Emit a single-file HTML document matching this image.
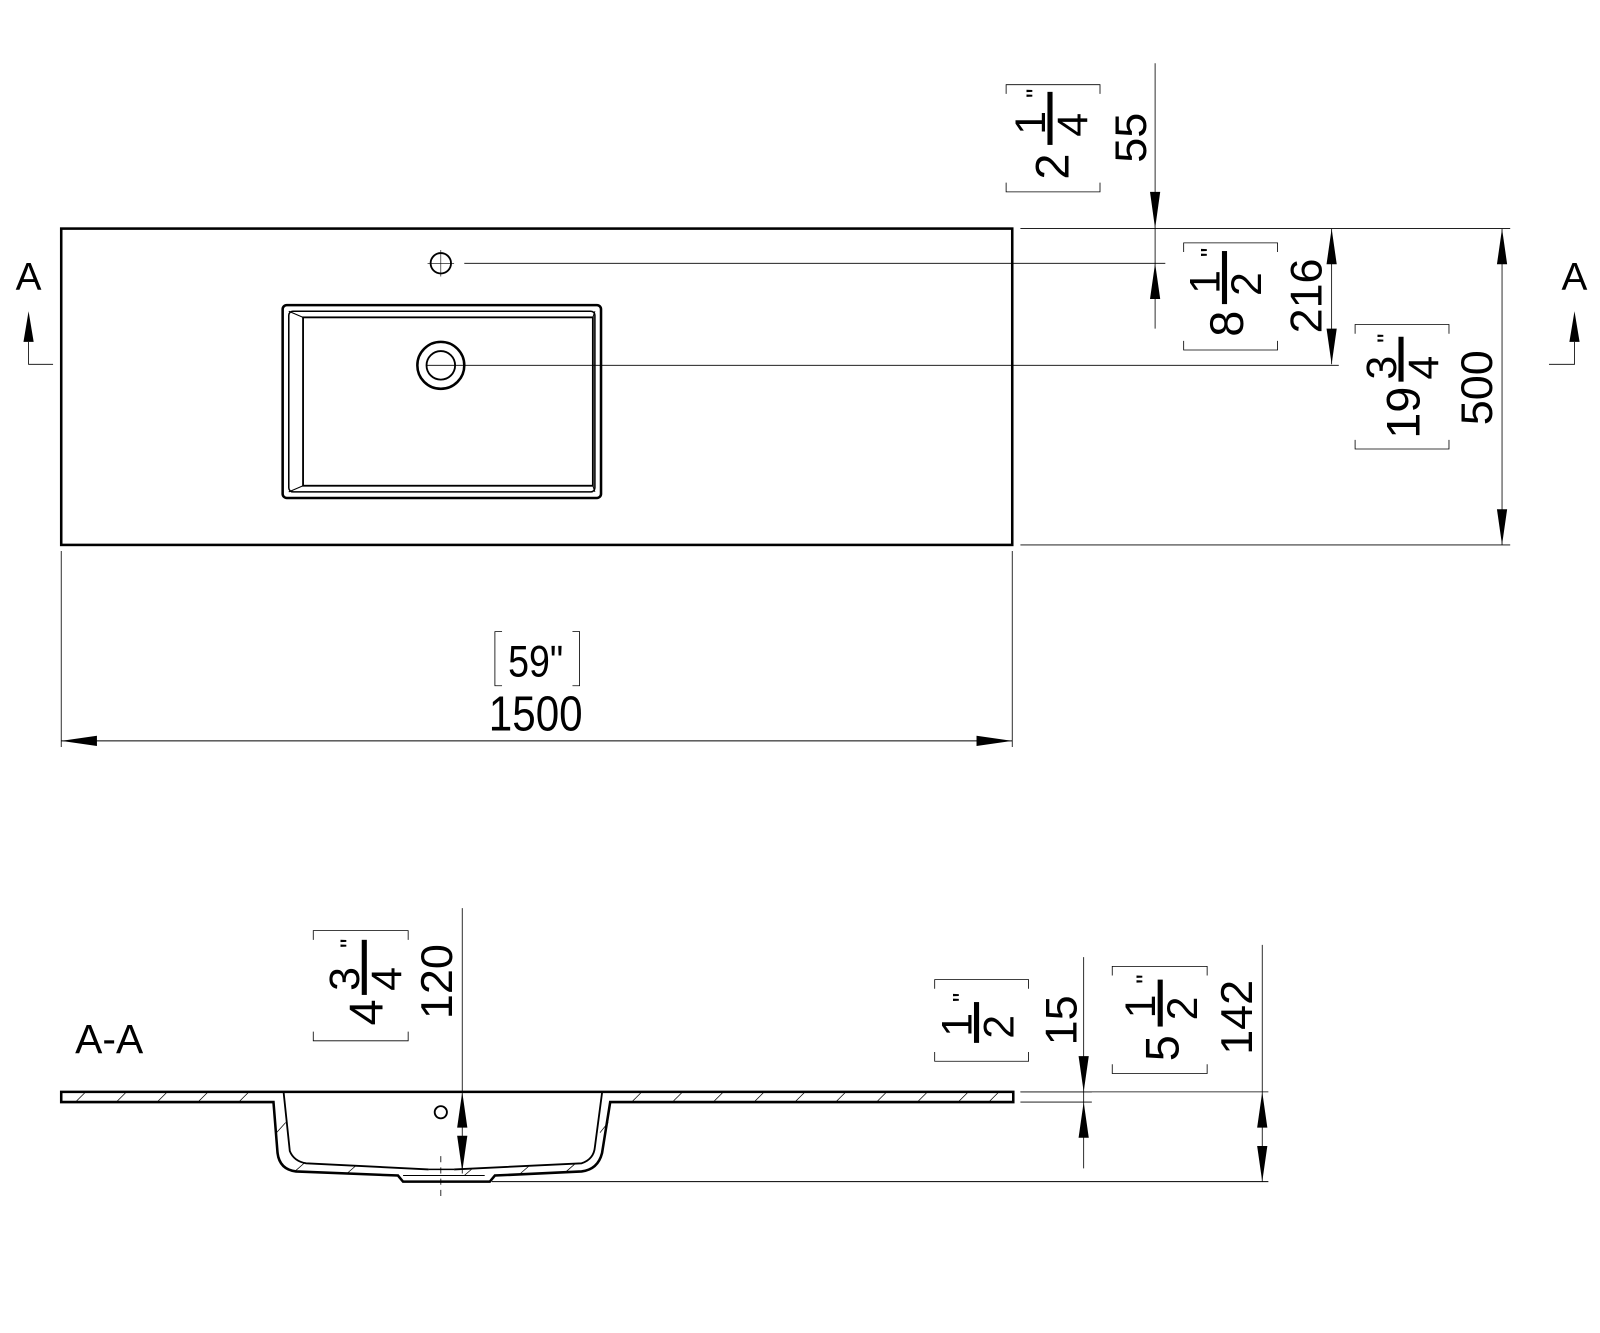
<!DOCTYPE html>
<html><head><meta charset="utf-8"><style>html,body{margin:0;padding:0;background:#fff}svg{display:block}text{font-family:"Liberation Sans",sans-serif;fill:#000}</style></head>
<body>
<svg width="1600" height="1333" viewBox="0 0 1568 1306.3" xmlns="http://www.w3.org/2000/svg">
<g fill="none" stroke="#000">
<rect x="60" y="224" width="932" height="310" stroke-width="2.5"/>
<circle cx="432" cy="258" r="10" stroke-width="1.8"/>
<line x1="419" y1="258" x2="445" y2="258" stroke-width="0.6"/>
<line x1="432" y1="245" x2="432" y2="271" stroke-width="0.6"/>
<rect x="277" y="299" width="312" height="189" rx="4" stroke-width="2.5"/>
<rect x="283" y="305" width="300" height="177" rx="4" stroke-width="1.5"/>
<rect x="297" y="311" width="284" height="165" stroke-width="1.8"/>
<line x1="283" y1="305" x2="297" y2="311" stroke-width="1"/>
<line x1="583" y1="305" x2="581" y2="311" stroke-width="1"/>
<line x1="283" y1="482" x2="297" y2="476" stroke-width="1"/>
<line x1="583" y1="482" x2="581" y2="476" stroke-width="1"/>
<circle cx="432" cy="358" r="23" stroke-width="2.5"/>
<circle cx="432" cy="358" r="14" stroke-width="1.8"/>
<line x1="455" y1="258" x2="1142" y2="258" stroke-width="0.8"/>
<line x1="418" y1="358" x2="1312" y2="358" stroke-width="0.8"/>
<line x1="1000" y1="224" x2="1480" y2="224" stroke-width="0.8"/>
<line x1="1000" y1="534" x2="1480" y2="534" stroke-width="0.8"/>
<line x1="1132" y1="62" x2="1132" y2="322" stroke-width="0.8"/>
<line x1="1305" y1="224" x2="1305" y2="357" stroke-width="0.8"/>
<line x1="1472" y1="224" x2="1472" y2="534" stroke-width="0.8"/>
<line x1="60" y1="540" x2="60" y2="732" stroke-width="0.8"/>
<line x1="992" y1="540" x2="992" y2="732" stroke-width="0.8"/>
<line x1="60" y1="726" x2="992" y2="726" stroke-width="1"/>
<polyline points="28,335 28,357 52,357" stroke-width="0.8"/>
<polyline points="1543,335 1543,357 1518,357" stroke-width="0.8"/>
<path d="M986,92 V83 H1078 V92 M986,179 V188 H1078 V179" stroke-width="0.8"/>
<path d="M1160,247 V238 H1252 V247 M1160,334 V343 H1252 V334" stroke-width="0.8"/>
<path d="M1328,327 V318 H1420 V327 M1328,431 V440 H1420 V431" stroke-width="0.8"/>
<path d="M492,619 H485 V672 H492 M561,619 H568 V672 H561" stroke-width="0.8"/>
<path d="M307,921 V912 H400 V921 M307,1011 V1020 H400 V1011" stroke-width="0.8"/>
<path d="M916,969 V960 H1008 V969 M916,1031 V1040 H1008 V1031" stroke-width="0.8"/>
<path d="M1090,956 V947 H1183 V956 M1090,1043 V1052 H1183 V1043" stroke-width="0.8"/>
<path d="M60,1070 H993 V1080 H598 L590,1130 Q586,1146 570,1148 L485,1152 L480,1158 H395 L390,1152 L290,1148 Q274,1146 272,1130 L268,1080 H60 Z" stroke-width="2.5"/>
<path d="M278,1071 L284,1128 Q288,1138 300,1140 L420,1146 M445,1146 L570,1140 Q582,1136 583,1124 L590,1071" stroke-width="1.8"/>
<line x1="420" y1="1146" x2="445" y2="1146" stroke-width="1.5"/>
<line x1="395" y1="1152" x2="475" y2="1152" stroke-width="1"/>
<circle cx="432" cy="1090" r="6" stroke-width="1.8"/>
<line x1="432" y1="1133" x2="432" y2="1175" stroke-width="0.8" stroke-dasharray="6,5"/>
<g stroke-width="0.7">
<line x1="75" y1="1079" x2="83" y2="1071"/><line x1="115" y1="1079" x2="123" y2="1071"/><line x1="155" y1="1079" x2="163" y2="1071"/><line x1="195" y1="1079" x2="203" y2="1071"/><line x1="235" y1="1079" x2="243" y2="1071"/>
<line x1="620" y1="1079" x2="628" y2="1071"/><line x1="660" y1="1079" x2="668" y2="1071"/><line x1="700" y1="1079" x2="708" y2="1071"/><line x1="740" y1="1079" x2="748" y2="1071"/><line x1="780" y1="1079" x2="788" y2="1071"/><line x1="820" y1="1079" x2="828" y2="1071"/><line x1="860" y1="1079" x2="868" y2="1071"/><line x1="900" y1="1079" x2="908" y2="1071"/><line x1="940" y1="1079" x2="948" y2="1071"/><line x1="970" y1="1079" x2="978" y2="1071"/>
<line x1="271" y1="1110" x2="280" y2="1100"/><line x1="588" y1="1110" x2="596" y2="1100"/><line x1="290" y1="1147" x2="298" y2="1140"/><line x1="340" y1="1150" x2="348" y2="1143"/><line x1="510" y1="1150" x2="518" y2="1143"/><line x1="555" y1="1148" x2="563" y2="1141"/><line x1="455" y1="1152" x2="462" y2="1146"/>
</g>
<line x1="453" y1="890" x2="453" y2="1150" stroke-width="0.8"/>
<line x1="1000" y1="1070" x2="1070" y2="1070" stroke-width="0.8"/>
<line x1="1000" y1="1080" x2="1070" y2="1080" stroke-width="0.8"/>
<line x1="1062" y1="938" x2="1062" y2="1145" stroke-width="0.8"/>
<line x1="1000" y1="1070" x2="1243" y2="1070" stroke-width="0.8"/>
<line x1="1237" y1="926" x2="1237" y2="1158" stroke-width="0.8"/>
<line x1="482" y1="1158" x2="1243" y2="1158" stroke-width="1"/>
</g>
<g fill="#000">
<polygon points="1132,224 1127,188 1137,188"/>
<polygon points="1132,258 1127,293 1137,293"/>
<polygon points="1305,224 1300,259 1310,259"/>
<polygon points="1305,357 1300,322 1310,322"/>
<polygon points="1472,224 1467,259 1477,259"/>
<polygon points="1472,534 1467,499 1477,499"/>
<polygon points="60,726 95,721 95,731"/>
<polygon points="992,726 957,721 957,731"/>
<polygon points="28,305 23,335 33,335"/>
<polygon points="1543,305 1538,335 1548,335"/>
<polygon points="453,1070 448,1105 458,1105"/>
<polygon points="453,1148 448,1113 458,1113"/>
<polygon points="1062,1070 1057,1035 1067,1035"/>
<polygon points="1062,1080 1057,1115 1067,1115"/>
<polygon points="1237,1070 1232,1105 1242,1105"/>
<polygon points="1237,1158 1232,1123 1242,1123"/>
</g>
<text x="28" y="284" font-size="38" text-anchor="middle">A</text>
<text x="1543" y="284" font-size="38" text-anchor="middle">A</text>
<text x="525" y="663" font-size="44" text-anchor="middle" textLength="54" lengthAdjust="spacingAndGlyphs">59"</text>
<text x="525" y="716" font-size="48" text-anchor="middle" textLength="92" lengthAdjust="spacingAndGlyphs">1500</text>
<text x="107" y="1032" font-size="40" text-anchor="middle">A-A</text>
<g font-size="44">
<text transform="translate(1123,135) rotate(-90)" text-anchor="middle">55</text>
<text transform="translate(1295,290) rotate(-90)" text-anchor="middle">216</text>
<text transform="translate(1462,380) rotate(-90)" text-anchor="middle">500</text>
<text transform="translate(443,962) rotate(-90)" text-anchor="middle">120</text>
<text transform="translate(1055,1000) rotate(-90)" text-anchor="middle">15</text>
<text transform="translate(1227,997) rotate(-90)" text-anchor="middle">142</text>
</g>
<g transform="translate(1029,176) rotate(-90)">
<text x="0" y="18" font-size="46">2</text>
<rect x="34" y="-2.5" width="52" height="5"/>
<text x="44" y="-5" font-size="42">1</text>
<text x="42" y="36" font-size="42">4</text>
<text x="80" y="-5" font-size="26">"</text>
</g>
<g transform="translate(1200,330) rotate(-90)">
<text x="0" y="18" font-size="46">8</text>
<rect x="32" y="-2.5" width="52" height="5"/>
<text x="42" y="-5" font-size="42">1</text>
<text x="40" y="36" font-size="42">2</text>
<text x="78" y="-5" font-size="26">"</text>
</g>
<g transform="translate(1373,430) rotate(-90)">
<text x="0" y="18" font-size="46">19</text>
<rect x="56" y="-2.5" width="44" height="5"/>
<text x="58" y="-5" font-size="42">3</text>
<text x="58" y="36" font-size="42">4</text>
<text x="94" y="-5" font-size="26">"</text>
</g>
<g transform="translate(357,1005) rotate(-90)">
<text x="0" y="18" font-size="46">4</text>
<rect x="30" y="-2.5" width="54" height="5"/>
<text x="34" y="-5" font-size="42">3</text>
<text x="34" y="36" font-size="42">4</text>
<text x="76" y="-5" font-size="26">"</text>
</g>
<g transform="translate(957,1022) rotate(-90)">
<rect x="0" y="-2.5" width="40" height="5"/>
<text x="6" y="-5" font-size="42">1</text>
<text x="4" y="36" font-size="42">2</text>
<text x="40" y="-5" font-size="26">"</text>
</g>
<g transform="translate(1137,1040) rotate(-90)">
<text x="0" y="18" font-size="46">5</text>
<rect x="34" y="-2.5" width="46" height="5"/>
<text x="42" y="-5" font-size="42">1</text>
<text x="40" y="36" font-size="42">2</text>
<text x="76" y="-5" font-size="26">"</text>
</g>
</svg>
</body></html>
